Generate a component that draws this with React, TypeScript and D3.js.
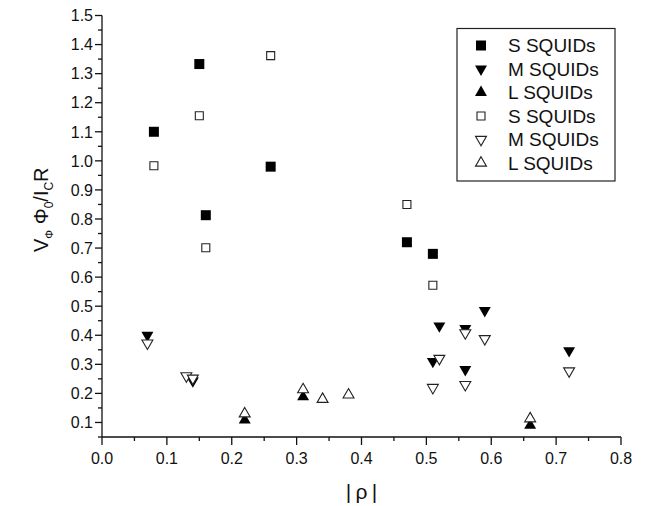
import React from "react";
import * as d3 from "d3";

const WIDTH = 656;
const HEIGHT = 506;
const FONT = "'Liberation Sans', Arial, Helvetica, sans-serif";

// |rho| , V_phi Phi_0 / I_C R  (filled = one measurement set, open = the other)
const sFilled: [number, number][] = [
  [0.08, 1.1], [0.15, 1.333], [0.16, 0.813], [0.26, 0.98], [0.47, 0.72], [0.51, 0.68],
];
const mFilled: [number, number][] = [
  [0.07, 0.4], [0.14, 0.243], [0.51, 0.31], [0.52, 0.432], [0.56, 0.282],
  [0.56, 0.423], [0.59, 0.485], [0.72, 0.347],
];
const lFilled: [number, number][] = [
  [0.22, 0.108], [0.31, 0.188], [0.66, 0.09],
];
const sOpen: [number, number][] = [
  [0.08, 0.983], [0.15, 1.155], [0.16, 0.701], [0.26, 1.362], [0.47, 0.85], [0.51, 0.572],
];
const mOpen: [number, number][] = [
  [0.07, 0.373], [0.13, 0.26], [0.14, 0.252], [0.51, 0.22], [0.52, 0.32],
  [0.56, 0.23], [0.56, 0.408], [0.59, 0.388], [0.72, 0.277],
];
const lOpen: [number, number][] = [
  [0.22, 0.13], [0.31, 0.213], [0.34, 0.18], [0.38, 0.195], [0.66, 0.113],
];

const legendLabels = ["S SQUIDs", "M SQUIDs", "L SQUIDs", "S SQUIDs", "M SQUIDs", "L SQUIDs"];

type Kind = "square" | "down" | "up";
type Series = { data: [number, number][]; kind: Kind; filled: boolean };

const series: Series[] = [
  { data: sFilled, kind: "square", filled: true },
  { data: mFilled, kind: "down", filled: true },
  { data: lFilled, kind: "up", filled: true },
  { data: sOpen, kind: "square", filled: false },
  { data: mOpen, kind: "down", filled: false },
  { data: lOpen, kind: "up", filled: false },
];

const xTicks = d3.range(0, 9).map((i) => i / 10);
const xMinor = d3.range(0, 17).map((i) => i / 20);
const yTicks = d3.range(1, 16).map((i) => i / 10);
const yMinor = d3.range(1, 31).map((i) => i / 20);

const markerPath = (kind: Kind, filled: boolean) => {
  if (kind === "square") {
    return d3.symbol(d3.symbolSquare, filled ? 100 : 64)()!;
  }
  return d3.symbol(d3.symbolTriangle, filled ? 62 : 52)()!;
};

const Marker = ({ x, y, kind, filled }: { x: number; y: number; kind: Kind; filled: boolean }) => (
  <path
    d={markerPath(kind, filled)}
    transform={`translate(${x},${y})${kind === "down" ? " rotate(180)" : ""}`}
    fill={filled ? "#000" : "#fff"}
    stroke={filled ? "none" : "#222"}
    strokeWidth={1.1}
  />
);

const App = () => {
  const x = d3.scaleLinear().domain([0, 0.8]).range([102, 621]);
  const y = d3.scaleLinear().domain([0.05, 1.5]).range([437, 15.5]);
  const fmt = d3.format(".1f");

  const x0 = x(0);
  const y0 = y(0.05);

  return (
    <svg
      width={WIDTH}
      height={HEIGHT}
      style={{ position: "absolute", left: 0, top: 0, background: "#fff" }}
      fontFamily={FONT}
    >
      <rect width={WIDTH} height={HEIGHT} fill="#fff" />

      {/* x axis */}
      <g stroke="#111" strokeWidth={1.3}>
        <line x1={x0} x2={x(0.8)} y1={y0} y2={y0} />
        {xMinor.map((t, i) => (
          <line key={i} x1={x(t)} x2={x(t)} y1={y0} y2={y0 + (i % 2 === 0 ? 8 : 4)} />
        ))}
      </g>
      {xTicks.map((t) => (
        <text key={t} x={x(t)} y={y0 + 27} textAnchor="middle" fontSize={16} fill="#111">
          {fmt(t)}
        </text>
      ))}
      <text x={x(0.4)} y={499} textAnchor="middle" fontSize={21} fill="#111">
        {"|\u2009ρ\u2009|"}
      </text>

      {/* y axis */}
      <g stroke="#111" strokeWidth={1.3}>
        <line x1={x0} x2={x0} y1={y0} y2={y(1.5)} />
        {yMinor.map((t, i) => (
          <line key={i} x1={x0} x2={x0 - (i % 2 === 1 ? 7 : 4)} y1={y(t)} y2={y(t)} />
        ))}
      </g>
      {yTicks.map((t) => (
        <text
          key={t}
          x={x0 - 9}
          y={y(t)}
          dy="0.36em"
          textAnchor="end"
          fontSize={16}
          fill="#111"
        >
          {fmt(t)}
        </text>
      ))}
      <text
        transform="translate(48,252) rotate(-90)"
        fontSize={20}
        fill="#111"
      >
        V
        <tspan fontSize={11} dy={5}>Φ</tspan>
        <tspan dy={-5}> Φ</tspan>
        <tspan fontSize={12} dy={5}>0</tspan>
        <tspan dy={-5}>/I</tspan>
        <tspan fontSize={12} dy={5}>C</tspan>
        <tspan dy={-5}>R</tspan>
      </text>

      {/* data */}
      {series.map((s, si) => (
        <g key={si}>
          {s.data.map(([rx, ry], i) => (
            <Marker key={i} x={x(rx)} y={y(ry)} kind={s.kind} filled={s.filled} />
          ))}
        </g>
      ))}

      {/* legend */}
      <rect x={457} y={28.5} width={158} height={152.5} fill="#fff" stroke="#222" strokeWidth={1.2} />
      {series.map((s, i) => {
        const ly = 45.5 + i * 23.5;
        return (
          <g key={i}>
            <Marker x={481} y={ly} kind={s.kind} filled={s.filled} />
            <text x={508} y={ly} dy="0.36em" fontSize={19} fill="#111">
              {legendLabels[i]}
            </text>
          </g>
        );
      })}
    </svg>
  );
};

export default App;
